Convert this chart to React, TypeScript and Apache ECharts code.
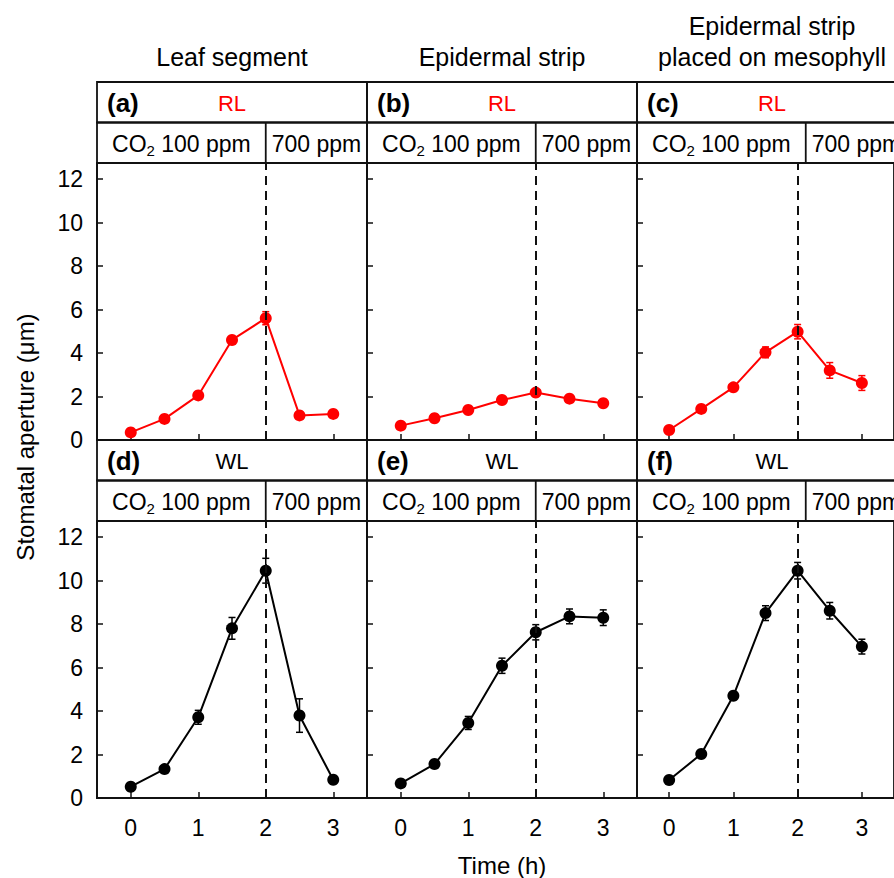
import React, { useEffect, useRef } from "react";
import * as echarts from "echarts";

// Sampling times (h)
const times = [0, 0.5, 1, 1.5, 2, 2.5, 3];

// Stomatal aperture (μm), mean and error, per panel
const leafRL = [0.35, 0.97, 2.05, 4.6, 5.6, 1.13, 1.2];
const leafRLErr = [0.05, 0.08, 0.1, 0.15, 0.3, 0.12, 0.1];
const stripRL = [0.66, 1.0, 1.38, 1.84, 2.18, 1.9, 1.69];
const stripRLErr = [0.05, 0.06, 0.08, 0.1, 0.12, 0.1, 0.1];
const mesoRL = [0.46, 1.43, 2.42, 4.03, 4.98, 3.2, 2.62];
const mesoRLErr = [0.05, 0.1, 0.15, 0.25, 0.33, 0.36, 0.34];

const leafWL = [0.52, 1.33, 3.71, 7.8, 10.45, 3.79, 0.84];
const leafWLErr = [0.1, 0.12, 0.32, 0.5, 0.57, 0.77, 0.1];
const stripWL = [0.67, 1.56, 3.45, 6.08, 7.62, 8.35, 8.29];
const stripWLErr = [0.05, 0.1, 0.3, 0.35, 0.35, 0.34, 0.36];
const mesoWL = [0.83, 2.02, 4.7, 8.5, 10.45, 8.61, 6.96];
const mesoWLErr = [0.05, 0.1, 0.15, 0.34, 0.38, 0.38, 0.34];

const yTicks = [0, 2, 4, 6, 8, 10, 12];
const xTicks = [0, 1, 2, 3];
const co2SwitchTime = 2;

const columnTitles = [["Leaf segment"], ["Epidermal strip"], ["Epidermal strip", "placed on mesophyll"]];
const panelLetters = [["(a)", "(b)", "(c)"], ["(d)", "(e)", "(f)"]];
const rowLight = ["RL", "WL"];
const rowColors = ["#ff0000", "#000000"];

const panelData = [
  [
    [leafRL, leafRLErr],
    [stripRL, stripRLErr],
    [mesoRL, mesoRLErr],
  ],
  [
    [leafWL, leafWLErr],
    [stripWL, stripWLErr],
    [mesoWL, mesoWLErr],
  ],
];

// Layout (px)
const colLeft0 = 97;
const colWidth = 270;
const headerTops = [82, 440];
const headerRowH = 40.5;
const plotH = 277;
const xMin = -0.5;
const xMax = 3.5;
const yMax = plotH / 21.75;
const FONT = "Arial, 'Liberation Sans', Helvetica, sans-serif";
const INK = "#111";

function buildOption() {
  const grids: any[] = [];
  const xAxes: any[] = [];
  const yAxes: any[] = [];
  const series: any[] = [];
  const graphics: any[] = [];

  const pxPerHour = colWidth / (xMax - xMin);

  for (let r = 0; r < 2; r++) {
    for (let c = 0; c < 3; c++) {
      const idx = r * 3 + c;
      const left = colLeft0 + c * colWidth;
      const hTop = headerTops[r];
      const plotTop = hTop + headerRowH * 2;
      const color = rowColors[r];

      grids.push({
        left,
        top: plotTop,
        width: colWidth,
        height: plotH,
        show: true,
        borderColor: INK,
        borderWidth: 1.8,
        backgroundColor: "transparent",
      });

      xAxes.push({
        type: "value",
        gridIndex: idx,
        min: xMin,
        max: xMax,
        splitLine: { show: false },
        axisLine: { show: true, onZero: false, lineStyle: { color: INK, width: 1.8 } },
        axisTick: {
          show: true,
          inside: true,
          length: 6,
          customValues: xTicks,
          lineStyle: { color: INK, width: 1.5 },
        },
        axisLabel: {
          show: r === 1,
          customValues: xTicks,
          margin: 18,
          fontSize: 23,
          color: "#000",
          fontFamily: FONT,
        },
      });

      yAxes.push({
        type: "value",
        gridIndex: idx,
        min: 0,
        max: yMax,
        splitLine: { show: false },
        axisLine: { show: true, onZero: false, lineStyle: { color: INK, width: 1.8 } },
        axisTick: {
          show: true,
          inside: true,
          length: 6,
          customValues: yTicks,
          lineStyle: { color: INK, width: 1.5 },
        },
        axisLabel: {
          show: c === 0,
          customValues: yTicks,
          margin: 14,
          fontSize: 23,
          color: "#000",
          fontFamily: FONT,
        },
      });

      const [vals, errs] = panelData[r][c];

      series.push({
        type: "custom",
        xAxisIndex: idx,
        yAxisIndex: idx,
        z: 3,
        silent: true,
        encode: { x: 0, y: 1 },
        data: times.map((t, i) => [t, vals[i], errs[i]]),
        renderItem: (params: any, api: any) => {
          const x = api.value(0);
          const y = api.value(1);
          const e = api.value(2);
          const top = api.coord([x, y + e]);
          const bot = api.coord([x, y - e]);
          const cap = 3.5;
          const st = { stroke: color, lineWidth: 1.5 };
          return {
            type: "group",
            children: [
              { type: "line", shape: { x1: top[0], y1: top[1], x2: bot[0], y2: bot[1] }, style: st },
              { type: "line", shape: { x1: top[0] - cap, y1: top[1], x2: top[0] + cap, y2: top[1] }, style: st },
              { type: "line", shape: { x1: bot[0] - cap, y1: bot[1], x2: bot[0] + cap, y2: bot[1] }, style: st },
            ],
          };
        },
      });

      series.push({
        type: "line",
        xAxisIndex: idx,
        yAxisIndex: idx,
        z: 4,
        data: times.map((t, i) => [t, vals[i]]),
        symbol: "circle",
        symbolSize: 12,
        showSymbol: true,
        itemStyle: { color },
        lineStyle: { color, width: 2 },
        markLine: {
          silent: true,
          symbol: "none",
          label: { show: false },
          lineStyle: { color: INK, width: 2, type: [9, 6] },
          data: [{ xAxis: co2SwitchTime }],
        },
      });

      // Header boxes: panel letter + light, then CO2 level row
      const dividerX = left + (co2SwitchTime - xMin) * pxPerHour;
      graphics.push({
        type: "rect",
        shape: { x: left, y: hTop, width: colWidth, height: headerRowH },
        style: { fill: "none", stroke: INK, lineWidth: 1.8 },
      });
      graphics.push({
        type: "rect",
        shape: { x: left, y: hTop + headerRowH, width: colWidth, height: headerRowH },
        style: { fill: "none", stroke: INK, lineWidth: 1.8 },
      });
      graphics.push({
        type: "line",
        shape: { x1: dividerX, y1: hTop + headerRowH, x2: dividerX, y2: hTop + headerRowH * 2 },
        style: { stroke: INK, lineWidth: 1.8 },
      });
      graphics.push({
        type: "text",
        x: left + 10,
        y: hTop + headerRowH / 2 + 1,
        style: {
          text: panelLetters[r][c],
          font: `bold 26px ${FONT}`,
          fill: "#000",
          textAlign: "left",
          textVerticalAlign: "middle",
        },
      });
      graphics.push({
        type: "text",
        x: left + colWidth / 2,
        y: hTop + headerRowH / 2 + 1,
        style: {
          text: rowLight[r],
          font: `22px ${FONT}`,
          fill: color,
          textAlign: "center",
          textVerticalAlign: "middle",
        },
      });
      graphics.push({
        type: "text",
        x: (left + dividerX) / 2,
        y: hTop + headerRowH * 1.5 + 1,
        style: {
          text: "{n|CO}{s|2}{n| 100 ppm}",
          textAlign: "center",
          textVerticalAlign: "middle",
          rich: {
            n: { fontSize: 23, fontFamily: FONT, fill: "#000", lineHeight: 28 },
            s: { fontSize: 15, fontFamily: FONT, fill: "#000", lineHeight: 16, verticalAlign: "bottom" },
          },
        },
      });
      graphics.push({
        type: "text",
        x: (dividerX + left + colWidth) / 2,
        y: hTop + headerRowH * 1.5 + 1,
        style: {
          text: "700 ppm",
          font: `23px ${FONT}`,
          fill: "#000",
          textAlign: "center",
          textVerticalAlign: "middle",
        },
      });
    }
  }

  // Column titles
  columnTitles.forEach((lines, c) => {
    const cx = colLeft0 + c * colWidth + colWidth / 2;
    lines.forEach((line, i) => {
      const y = 57 - (lines.length - 1 - i) * 31;
      graphics.push({
        type: "text",
        x: cx,
        y,
        style: {
          text: line,
          font: `25px ${FONT}`,
          fill: "#000",
          textAlign: "center",
          textVerticalAlign: "middle",
        },
      });
    });
  });

  // Axis titles
  graphics.push({
    type: "text",
    x: 25,
    y: 437,
    rotation: Math.PI / 2,
    style: {
      text: "Stomatal aperture (μm)",
      font: `24px ${FONT}`,
      fill: "#000",
      textAlign: "center",
      textVerticalAlign: "middle",
    },
  });
  graphics.push({
    type: "text",
    x: colLeft0 + colWidth * 1.5,
    y: 865,
    style: {
      text: "Time (h)",
      font: `24px ${FONT}`,
      fill: "#000",
      textAlign: "center",
      textVerticalAlign: "middle",
    },
  });

  return {
    animation: false,
    backgroundColor: "#ffffff",
    grid: grids,
    xAxis: xAxes,
    yAxis: yAxes,
    series,
    graphic: graphics,
  };
}

export default function App() {
  const ref = useRef<HTMLDivElement>(null);
  useEffect(() => {
    if (!ref.current) return;
    const chart = echarts.init(ref.current, undefined, { renderer: "svg" });
    chart.setOption(buildOption());
    return () => chart.dispose();
  }, []);
  return (
    <div
      ref={ref}
      style={{ position: "absolute", left: 0, top: 0, width: 894, height: 878, background: "#fff" }}
    />
  );
}
